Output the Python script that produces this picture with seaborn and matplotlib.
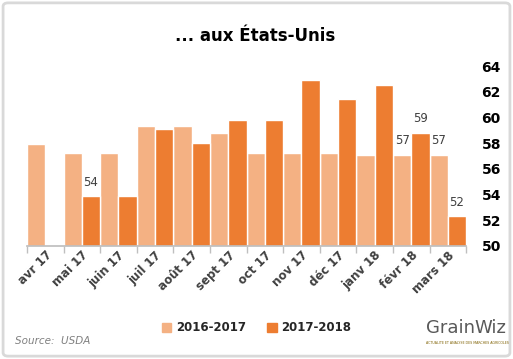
import numpy as np
import pandas as pd
import matplotlib
matplotlib.use("Agg")
import matplotlib.pyplot as plt
from matplotlib.patches import FancyBboxPatch
import seaborn as sns

# data
months = ["avr 17", "mai 17", "juin 17", "juil 17", "août 17", "sept 17",
          "oct 17", "nov 17", "déc 17", "janv 18", "févr 18", "mars 18"]
s_2016_17 = [57.9, 57.2, 57.2, 59.3, 59.3, 58.8, 57.2, 57.2, 57.2, 57.1, 57.1, 57.1]
s_2017_18 = [np.nan, 53.85, 53.85, 59.1, 58.0, 59.8, 59.8, 62.9, 61.4, 62.5, 58.8, 52.3]
series_names = ["2016-2017", "2017-2018"]
# (month index, series index, label text)
value_labels = [(1, 1, "54"), (10, 0, "57"), (10, 1, "59"), (11, 0, "57"), (11, 1, "52")]

light = "#F4B183"
dark = "#ED7D31"

sns.set_theme(style="white")
plt.rcParams['font.family'] = ['DejaVu Sans']

df = pd.DataFrame({
    "Mois": months * 2,
    "Valeur": s_2016_17 + s_2017_18,
    "Saison": [series_names[0]] * len(months) + [series_names[1]] * len(months),
})

fig = plt.figure(figsize=(5.13, 3.59), dpi=100)
ax = fig.add_axes([0.0526, 0.315, 0.856, 0.501])

sns.barplot(data=df, x="Mois", y="Valeur", hue="Saison", order=months,
            hue_order=series_names, palette=[light, dark], saturation=1,
            width=1.0, edgecolor="white", linewidth=1.0, errorbar=None, ax=ax)

ax.set_ylim(50, 64)
ax.set_xlim(-0.5, len(months) - 0.5)
ax.yaxis.tick_right()
ax.set_yticks(range(50, 65, 2))
ax.tick_params(axis="y", length=0, pad=11, labelsize=10, labelcolor="black")
for t in ax.get_yticklabels():
    t.set_fontweight("bold")

ax.set_xticks(range(len(months)))
ax.set_xticklabels(months, rotation=45, ha="right", rotation_mode="anchor",
                   fontsize=8.5, fontweight="bold", color="#404040")
ax.tick_params(axis="x", which="major", length=0, pad=2)
ax.set_xticks(np.arange(-0.5, len(months), 1), minor=True)
ax.tick_params(axis="x", which="minor", bottom=True, length=5,
               color="#BFBFBF", width=1)
ax.set_xlabel(None)
ax.set_ylabel(None)

for side in ["top", "left", "right"]:
    ax.spines[side].set_visible(False)
ax.spines["bottom"].set_color("#BFBFBF")

# data labels
series_vals = [s_2016_17, s_2017_18]
for i, j, txt in value_labels:
    xpos = i - 0.25 + 0.5 * j
    ax.text(xpos, series_vals[j][i] + 0.6, txt, ha="center", va="bottom",
            fontsize=8.5, color="#404040")

ax.legend_.remove()
handles = [plt.Rectangle((0, 0), 1, 1, color=c) for c in [light, dark]]
fig.legend(handles, series_names, loc="center", bbox_to_anchor=(0.5, 0.087),
           ncol=2, frameon=False, prop={"weight": "bold", "size": 8.5},
           handlelength=0.8, handleheight=0.8, handletextpad=0.4, columnspacing=1.8)

fig.text(0.497, 0.9, "... aux États-Unis", ha="center", va="center",
         fontsize=12, fontweight="bold", color="black")
fig.text(0.03, 0.05, "Source:  USDA", ha="left", va="center",
         fontsize=7.5, style="italic", color="#808080")

# logo
fig.text(0.83, 0.085, "Grain", ha="left", va="center", fontsize=13,
         color="#595959")
fig.text(0.925, 0.085, "Wiz", ha="left", va="center", fontsize=13,
         color="#595959")
fig.text(0.83, 0.045, "ACTUALITE ET ANALYSE DES MARCHES AGRICOLES", ha="left",
         va="center", fontsize=2.3, color="#7F6000")

fig.patches.append(FancyBboxPatch((0.006, 0.008), 0.988, 0.984,
                                  boxstyle="round,pad=0,rounding_size=0.01",
                                  transform=fig.transFigure, fill=False,
                                  edgecolor="#D9D9D9", linewidth=2))

fig.savefig("out.png", dpi=100)
